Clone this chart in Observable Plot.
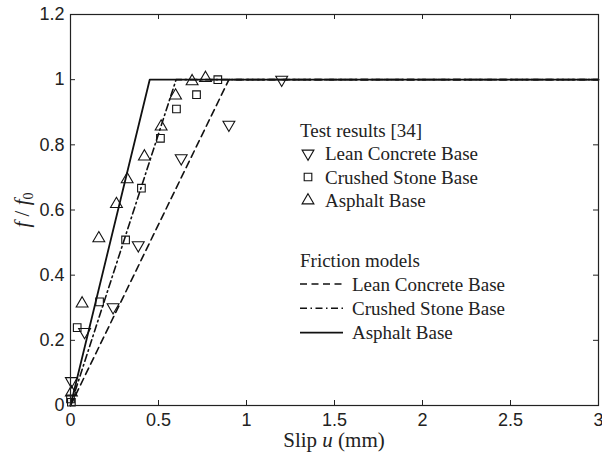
<!DOCTYPE html>
<html><head><meta charset="utf-8">
<script src="https://cdn.jsdelivr.net/npm/d3@7"></script>
<script src="https://cdn.jsdelivr.net/npm/@observablehq/plot@0.6"></script>
<style>body{margin:0;background:#fff} svg{display:block;background:#fff}</style>
</head><body><div id="chart"></div>
<script>
// Test results [34]
const leanSlip = [0.005, 0.08, 0.242, 0.385, 0.629, 0.90, 1.20];
const leanF    = [0.075, 0.226, 0.302, 0.492, 0.759, 0.862, 1.0];
const crushedSlip = [0.0, 0.005, 0.038, 0.165, 0.313, 0.403, 0.511, 0.602, 0.716, 0.837];
const crushedF    = [0.02, 0.01, 0.239, 0.318, 0.508, 0.667, 0.82, 0.91, 0.954, 1.0];
const asphaltSlip = [0.005, 0.066, 0.161, 0.261, 0.322, 0.42, 0.515, 0.597, 0.691, 0.767];
const asphaltF    = [0.04, 0.313, 0.513, 0.618, 0.694, 0.764, 0.856, 0.951, 0.995, 1.005];
// Friction models: linear up to knee slip, then constant f/f0 = 1
const modelNames = ["Lean Concrete Base", "Crushed Stone Base", "Asphalt Base"];
const modelKnee  = [0.9, 0.6, 0.45];
const modelMaxSlip = 3;
const xTicks = [0, 0.5, 1, 1.5, 2, 2.5, 3];
const yTicks = [0, 0.2, 0.4, 0.6, 0.8, 1, 1.2];

const W = 602, H = 459, mL = 70, mR = 4, mT = 14, mB = 54;
const innerH = H - mT - mB, innerW = W - mL - mR, tk = 5;

const pts = (xs, ys) => xs.map((x, i) => ({x, y: ys[i]}));
const lean = pts(leanSlip, leanF), crushed = pts(crushedSlip, crushedF), asphalt = pts(asphaltSlip, asphaltF);
const model = (k) => [{x: 0, y: 0}, {x: modelKnee[k], y: 1}, {x: modelMaxSlip, y: 1}];
const dashes = ["7,4.5", "7,3.5,1.5,3.5", null];
const widths = [1.6, 1.6, 1.8];
const fmt = d => `${d}`;

const plot = Plot.plot({
  width: W, height: H, marginLeft: mL, marginRight: mR, marginTop: mT, marginBottom: mB,
  style: {fontFamily: "Liberation Sans, Arial, sans-serif", fontSize: "18px", color: "#222", background: "#fff"},
  x: {domain: [0, 3], ticks: xTicks},
  y: {domain: [0, 1.2], ticks: yTicks},
  marks: [
    Plot.axisX({ticks: xTicks, tickFormat: fmt, tickSize: 0, tickPadding: 8, label: null, fontSize: 18}),
    Plot.axisY({ticks: yTicks, tickFormat: fmt, tickSize: 0, tickPadding: 6, label: null, fontSize: 18}),
    Plot.tickX(xTicks, {x: d => d, insetTop: innerH - tk, stroke: "#222"}),
    Plot.tickX(xTicks, {x: d => d, insetBottom: innerH - tk, stroke: "#222"}),
    Plot.tickY(yTicks, {y: d => d, insetRight: innerW - tk, stroke: "#222"}),
    Plot.tickY(yTicks, {y: d => d, insetLeft: innerW - tk, stroke: "#222"}),
    ...[0, 1, 2].map(k => Plot.line(model(k), {x: "x", y: "y", stroke: "#111", strokeWidth: widths[k], strokeDasharray: dashes[k]})),
    Plot.dot(lean, {x: "x", y: "y", symbol: "triangle", rotate: 180, r: 4.4, stroke: "#111", strokeWidth: 1.1, fill: "none"}),
    Plot.dot(crushed, {x: "x", y: "y", symbol: "square", r: 4.3, stroke: "#111", strokeWidth: 1.1, fill: "none"}),
    Plot.dot(asphalt, {x: "x", y: "y", symbol: "triangle", r: 4.4, stroke: "#111", strokeWidth: 1.1, fill: "none"}),
    Plot.frame({stroke: "#222", strokeWidth: 1.2})
  ]
});
document.getElementById("chart").appendChild(plot);

const svg = d3.select(plot);
const serif = "Liberation Serif, Times New Roman, serif";
// x label
const xl = svg.append("text").attr("x", mL + innerW / 2).attr("y", 447).attr("text-anchor", "middle")
  .attr("font-family", serif).attr("font-size", 21).attr("fill", "#222");
xl.append("tspan").text("Slip ");
xl.append("tspan").attr("font-style", "italic").text("u");
xl.append("tspan").text(" (mm)");
// y label
const yl = svg.append("text").attr("transform", "translate(29,210) rotate(-90)").attr("text-anchor", "middle")
  .attr("font-family", serif).attr("font-size", 21).attr("fill", "#222");
yl.append("tspan").attr("font-style", "italic").text("f");
yl.append("tspan").text(" / ");
yl.append("tspan").attr("font-style", "italic").text("f");
yl.append("tspan").attr("font-size", 14).attr("dy", 4).text("0");

// legend
const lg = svg.append("g").attr("font-family", serif).attr("font-size", 19).attr("fill", "#222").attr("text-anchor", "start");
lg.append("text").attr("x", 300).attr("y", 130).attr("dy", "0.35em").text("Test results [34]");
const symT = d3.symbol(d3.symbolTriangle, Math.PI * 4.4 * 4.4)();
const symS = d3.symbol(d3.symbolSquare, Math.PI * 4.3 * 4.3)();
const markerRows = [[symT, 180], [symS, 0], [symT, 0]];
modelNames.forEach((name, i) => {
  const y = 153.5 + i * 23.5;
  lg.append("path").attr("d", markerRows[i][0]).attr("transform", `translate(308,${y}) rotate(${markerRows[i][1]})`)
    .attr("fill", "none").attr("stroke", "#111").attr("stroke-width", 1.1);
  lg.append("text").attr("x", 325).attr("y", y).attr("dy", "0.35em").text(name);
});
lg.append("text").attr("x", 300).attr("y", 260).attr("dy", "0.35em").text("Friction models");
modelNames.forEach((name, i) => {
  const y = 284 + i * 24.3;
  lg.append("line").attr("x1", 300).attr("x2", 343).attr("y1", y).attr("y2", y)
    .attr("stroke", "#111").attr("stroke-width", widths[i]).attr("stroke-dasharray", dashes[i]);
  lg.append("text").attr("x", 352).attr("y", y).attr("dy", "0.35em").text(name);
});
</script>
</body></html>
